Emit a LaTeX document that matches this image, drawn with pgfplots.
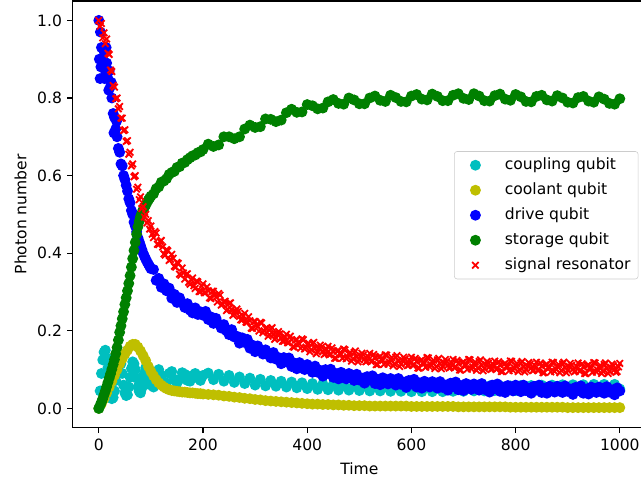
\documentclass[border=0pt]{standalone}
\usepackage{fontspec}
\setmainfont{DejaVu Sans}
\usepackage{pgfplots}
\usepackage{pgfplotstable}
\pgfplotsset{compat=1.18}
\definecolor{mplc}{rgb}{0,0.75,0.75}
\definecolor{mply}{rgb}{0.75,0.75,0}
\definecolor{mplg}{rgb}{0,0.5,0}
\definecolor{legedge}{rgb}{0.8,0.8,0.8}

% coupling qubit
\pgfplotstableread{
t y
0 0.000
2.5 0.045
5 0.090
7.5 0.125
10 0.145
12.5 0.150
15 0.130
17.5 0.105
20 0.070
22.5 0.042
25 0.025
27.5 0.028
30 0.045
32.5 0.072
35 0.100
37.5 0.122
40 0.130
42.5 0.115
45 0.090
47.5 0.060
50 0.040
52.5 0.033
55 0.035
57.5 0.055
60 0.080
62.5 0.103
65 0.120
67.5 0.115
70 0.100
72.5 0.078
75 0.055
77.5 0.044
80 0.040
82.5 0.052
85 0.070
87.5 0.090
90 0.105
92.5 0.104
95 0.095
97.5 0.076
100 0.060
105 0.055
110 0.080
115 0.100
120 0.085
125 0.060
130 0.065
135 0.090
140 0.095
145 0.075
150 0.065
155 0.075
160 0.092
165 0.088
170 0.072
175 0.070
180 0.085
185 0.090
190 0.078
195 0.072
200 0.085
210 0.091
220 0.074
230 0.088
240 0.070
250 0.085
260 0.067
270 0.081
280 0.064
290 0.078
300 0.060
310 0.075
320 0.058
330 0.072
340 0.057
350 0.070
360 0.055
370 0.068
380 0.053
390 0.066
400 0.051
410 0.064
420 0.049
430 0.063
440 0.048
450 0.062
460 0.047
470 0.060
480 0.047
490 0.059
500 0.046
510 0.058
520 0.045
530 0.057
540 0.045
550 0.056
560 0.044
570 0.056
580 0.044
590 0.056
600 0.043
610 0.055
620 0.043
630 0.055
640 0.043
650 0.055
660 0.043
670 0.056
680 0.044
690 0.056
700 0.044
710 0.057
720 0.045
730 0.057
740 0.045
750 0.058
760 0.046
770 0.058
780 0.046
790 0.058
800 0.046
810 0.059
820 0.047
830 0.059
840 0.047
850 0.060
860 0.048
870 0.060
880 0.048
890 0.061
900 0.049
910 0.061
920 0.049
930 0.061
940 0.049
950 0.062
960 0.050
970 0.062
980 0.050
990 0.062
1000 0.050
}\cpl

% coolant qubit
\pgfplotstableread{
t y
0 0.000
5 0.012
10 0.025
15 0.040
20 0.055
25 0.070
30 0.085
35 0.100
40 0.115
45 0.128
50 0.140
55 0.150
60 0.160
65 0.165
70 0.165
75 0.158
80 0.148
85 0.136
90 0.123
95 0.108
100 0.095
105 0.084
110 0.074
115 0.066
120 0.060
125 0.055
130 0.051
135 0.048
140 0.046
145 0.045
150 0.044
155 0.043
160 0.042
165 0.042
170 0.041
175 0.040
180 0.040
185 0.039
190 0.038
195 0.038
200 0.037
210 0.036
220 0.035
230 0.034
240 0.032
250 0.031
260 0.029
270 0.028
280 0.026
290 0.025
300 0.023
310 0.022
320 0.020
330 0.019
340 0.018
350 0.017
360 0.016
370 0.015
380 0.014
390 0.013
400 0.012
410 0.011
420 0.011
430 0.010
440 0.010
450 0.009
460 0.009
470 0.008
480 0.008
490 0.007
500 0.007
510 0.007
520 0.006
530 0.006
540 0.006
550 0.006
560 0.006
570 0.006
580 0.006
590 0.006
600 0.005
610 0.005
620 0.005
630 0.005
640 0.005
650 0.005
660 0.005
670 0.005
680 0.005
690 0.004
700 0.004
710 0.004
720 0.004
730 0.004
740 0.004
750 0.004
760 0.004
770 0.004
780 0.004
790 0.003
800 0.003
810 0.003
820 0.003
830 0.003
840 0.003
850 0.003
860 0.003
870 0.003
880 0.003
890 0.003
900 0.002
910 0.002
920 0.002
930 0.002
940 0.002
950 0.002
960 0.002
970 0.002
980 0.002
990 0.002
1000 0.002
}\cool

% drive qubit
\pgfplotstableread{
t y
0 1.000
1 0.900
2.5 0.850
3 0.970
4 0.880
5 0.930
7.5 0.900
10 0.920
11 0.850
12.5 0.870
14 0.930
15 0.890
17.5 0.850
19 0.820
20 0.870
22.5 0.830
24 0.840
25 0.800
27.5 0.760
29 0.710
30 0.750
32.5 0.720
34 0.740
35 0.700
37.5 0.670
40 0.660
42.5 0.630
45 0.625
47.5 0.600
50 0.590
52.5 0.575
55 0.560
57.5 0.540
60 0.530
62.5 0.510
65 0.500
67.5 0.480
70 0.470
72.5 0.455
75 0.440
77.5 0.430
80 0.420
82.5 0.410
85 0.400
87.5 0.392
90 0.385
92.5 0.378
95 0.372
97.5 0.366
100 0.360
105 0.358
110 0.330
115 0.335
120 0.312
125 0.321
130 0.303
135 0.310
140 0.284
145 0.294
150 0.273
155 0.285
160 0.272
165 0.260
170 0.270
175 0.253
180 0.246
185 0.259
190 0.242
195 0.249
200 0.240
205 0.250
210 0.229
215 0.236
220 0.219
225 0.232
230 0.218
235 0.207
240 0.216
245 0.200
250 0.190
255 0.203
260 0.184
265 0.186
270 0.168
275 0.182
280 0.170
285 0.178
290 0.155
295 0.163
300 0.146
305 0.161
310 0.149
315 0.140
320 0.151
325 0.138
330 0.130
335 0.144
340 0.127
345 0.131
350 0.115
355 0.131
360 0.120
365 0.130
370 0.108
375 0.117
380 0.102
385 0.118
390 0.108
395 0.100
400 0.113
405 0.100
410 0.093
415 0.109
420 0.093
425 0.098
430 0.083
435 0.100
440 0.090
445 0.101
450 0.080
455 0.090
460 0.076
465 0.093
470 0.083
475 0.076
480 0.090
485 0.078
490 0.072
495 0.088
500 0.073
505 0.078
510 0.065
515 0.082
520 0.073
525 0.084
530 0.064
535 0.075
540 0.061
545 0.079
550 0.070
555 0.063
560 0.077
565 0.066
570 0.060
575 0.077
580 0.062
585 0.068
590 0.054
595 0.072
600 0.063
605 0.075
610 0.055
615 0.066
620 0.052
625 0.070
630 0.061
635 0.055
640 0.069
645 0.058
650 0.052
655 0.069
660 0.054
665 0.060
670 0.047
675 0.065
680 0.056
685 0.068
690 0.048
695 0.059
700 0.046
705 0.064
710 0.055
715 0.049
720 0.063
725 0.052
730 0.047
735 0.064
740 0.049
745 0.055
750 0.042
755 0.060
760 0.051
765 0.063
770 0.044
775 0.055
780 0.041
785 0.059
790 0.051
795 0.045
800 0.060
805 0.049
810 0.043
815 0.060
820 0.046
825 0.052
830 0.039
835 0.057
840 0.048
845 0.060
850 0.041
855 0.052
860 0.039
865 0.057
870 0.048
875 0.042
880 0.057
885 0.046
890 0.041
895 0.058
900 0.044
905 0.050
910 0.036
915 0.054
920 0.046
925 0.058
930 0.039
935 0.050
940 0.037
945 0.055
950 0.047
955 0.041
960 0.055
965 0.044
970 0.039
975 0.056
980 0.042
985 0.048
990 0.035
995 0.053
1000 0.045
}\drv

% storage qubit
\pgfplotstableread{
t y
0 0.000
2.5 0.008
5 0.016
7.5 0.025
10 0.035
12.5 0.045
15 0.056
17.5 0.067
20 0.078
22.5 0.089
25 0.101
27.5 0.113
30 0.126
32.5 0.141
35 0.157
37.5 0.176
40 0.196
42.5 0.213
45 0.231
47.5 0.249
50 0.268
52.5 0.285
55 0.303
57.5 0.322
60 0.342
62.5 0.364
65 0.386
67.5 0.407
70 0.428
72.5 0.449
75 0.468
77.5 0.482
80 0.494
82.5 0.503
85 0.512
87.5 0.518
90 0.524
92.5 0.531
95 0.537
97.5 0.542
100 0.547
105 0.553
110 0.566
115 0.571
120 0.583
125 0.586
130 0.592
135 0.603
140 0.608
145 0.611
150 0.621
155 0.623
160 0.632
165 0.634
170 0.641
175 0.646
180 0.651
185 0.653
190 0.659
195 0.661
200 0.667
210 0.681
220 0.675
230 0.679
240 0.700
250 0.700
260 0.695
270 0.700
280 0.720
290 0.730
300 0.724
310 0.726
320 0.746
330 0.745
340 0.739
350 0.743
360 0.762
370 0.771
380 0.763
390 0.764
400 0.783
410 0.780
420 0.772
430 0.774
440 0.790
450 0.796
460 0.786
470 0.784
480 0.800
490 0.795
500 0.785
510 0.785
520 0.800
530 0.805
540 0.794
550 0.791
560 0.807
570 0.801
580 0.791
590 0.790
600 0.805
610 0.809
620 0.797
630 0.795
640 0.810
650 0.804
660 0.793
670 0.793
680 0.807
690 0.811
700 0.799
710 0.796
720 0.811
730 0.805
740 0.793
750 0.792
760 0.806
770 0.810
780 0.797
790 0.794
800 0.809
810 0.803
820 0.791
830 0.790
840 0.804
850 0.807
860 0.795
870 0.792
880 0.806
890 0.800
900 0.789
910 0.787
920 0.801
930 0.804
940 0.792
950 0.789
960 0.803
970 0.797
980 0.786
990 0.784
1000 0.798
}\sto

% signal resonator
\pgfplotstableread{
t y
0 1.000
2.5 0.985
5 0.992
7.5 0.955
10 0.968
12.5 0.940
15 0.952
17.5 0.915
20 0.912
22.5 0.872
25 0.868
27.5 0.832
30 0.828
32.5 0.798
35 0.800
37.5 0.772
40 0.778
42.5 0.748
45 0.748
47.5 0.716
50 0.718
52.5 0.688
55 0.690
57.5 0.655
60 0.660
62.5 0.625
65 0.630
67.5 0.597
70 0.600
72.5 0.565
75 0.570
77.5 0.538
80 0.545
82.5 0.515
85 0.520
87.5 0.493
90 0.500
92.5 0.478
95 0.484
97.5 0.462
100 0.470
105 0.440
110 0.452
115 0.422
120 0.433
125 0.398
130 0.409
135 0.381
140 0.397
145 0.366
150 0.376
155 0.346
160 0.362
165 0.333
170 0.347
175 0.320
180 0.336
185 0.309
190 0.326
195 0.301
200 0.321
205 0.298
210 0.303
215 0.283
220 0.302
225 0.287
230 0.296
235 0.266
240 0.274
245 0.252
250 0.270
255 0.255
260 0.243
265 0.256
270 0.237
275 0.228
280 0.245
285 0.222
290 0.226
295 0.206
300 0.224
305 0.211
310 0.222
315 0.195
320 0.206
325 0.186
330 0.205
335 0.192
340 0.182
345 0.198
350 0.181
355 0.173
360 0.191
365 0.170
370 0.177
375 0.158
380 0.177
385 0.166
390 0.179
395 0.153
400 0.165
405 0.146
410 0.167
415 0.155
420 0.146
425 0.163
430 0.147
435 0.141
440 0.160
445 0.140
450 0.147
455 0.129
460 0.149
465 0.139
470 0.153
475 0.128
480 0.140
485 0.122
490 0.144
495 0.133
500 0.125
505 0.142
510 0.127
515 0.122
520 0.142
525 0.122
530 0.130
535 0.113
540 0.134
545 0.124
550 0.138
555 0.114
560 0.127
565 0.110
570 0.132
575 0.122
580 0.114
585 0.132
590 0.117
595 0.112
600 0.132
605 0.113
610 0.121
615 0.104
620 0.125
625 0.116
630 0.131
635 0.107
640 0.120
645 0.103
650 0.125
655 0.115
660 0.108
665 0.126
670 0.111
675 0.106
680 0.126
685 0.107
690 0.116
695 0.099
700 0.120
705 0.111
710 0.126
715 0.102
720 0.115
725 0.098
730 0.121
735 0.111
740 0.103
745 0.121
750 0.107
755 0.102
760 0.122
765 0.103
770 0.112
775 0.095
780 0.116
785 0.107
790 0.122
795 0.098
800 0.112
805 0.095
810 0.117
815 0.107
820 0.100
825 0.118
830 0.104
835 0.099
840 0.119
845 0.100
850 0.109
855 0.092
860 0.114
865 0.105
870 0.119
875 0.095
880 0.109
885 0.092
890 0.115
895 0.105
900 0.098
905 0.116
910 0.101
915 0.096
920 0.117
925 0.098
930 0.107
935 0.090
940 0.112
945 0.103
950 0.118
955 0.094
960 0.107
965 0.090
970 0.113
975 0.103
980 0.096
985 0.114
990 0.100
995 0.095
1000 0.116
}\sig

% signal resonator, samples in between
\pgfplotstableread{
t y
102.5 0.449
107.5 0.456
112.5 0.423
117.5 0.430
122.5 0.416
127.5 0.395
132.5 0.406
137.5 0.384
142.5 0.387
147.5 0.364
152.5 0.374
157.5 0.343
162.5 0.349
167.5 0.345
172.5 0.325
177.5 0.332
182.5 0.316
187.5 0.328
192.5 0.301
197.5 0.315
202.5 0.298
207.5 0.313
212.5 0.285
217.5 0.302
222.5 0.292
227.5 0.274
232.5 0.292
237.5 0.269
242.5 0.276
247.5 0.256
252.5 0.272
257.5 0.240
262.5 0.251
267.5 0.250
272.5 0.228
277.5 0.238
282.5 0.222
287.5 0.236
292.5 0.207
297.5 0.224
302.5 0.215
307.5 0.199
312.5 0.220
317.5 0.200
322.5 0.208
327.5 0.190
332.5 0.208
337.5 0.178
342.5 0.191
347.5 0.192
352.5 0.173
357.5 0.184
362.5 0.169
367.5 0.186
372.5 0.159
377.5 0.176
382.5 0.169
387.5 0.155
392.5 0.177
397.5 0.158
402.5 0.168
407.5 0.151
412.5 0.170
417.5 0.141
422.5 0.155
427.5 0.158
432.5 0.139
437.5 0.152
442.5 0.138
447.5 0.156
452.5 0.129
457.5 0.148
462.5 0.142
467.5 0.129
472.5 0.151
477.5 0.133
482.5 0.144
487.5 0.128
492.5 0.148
497.5 0.120
502.5 0.135
507.5 0.138
512.5 0.120
517.5 0.133
522.5 0.121
527.5 0.139
532.5 0.113
537.5 0.132
542.5 0.127
547.5 0.114
552.5 0.137
557.5 0.119
562.5 0.131
567.5 0.115
572.5 0.136
577.5 0.108
582.5 0.124
587.5 0.127
592.5 0.110
597.5 0.123
602.5 0.111
607.5 0.129
612.5 0.104
617.5 0.123
622.5 0.118
627.5 0.106
632.5 0.130
637.5 0.112
642.5 0.124
647.5 0.108
652.5 0.129
657.5 0.102
662.5 0.118
667.5 0.121
672.5 0.104
677.5 0.117
682.5 0.105
687.5 0.124
692.5 0.099
697.5 0.118
702.5 0.113
707.5 0.101
712.5 0.125
717.5 0.107
722.5 0.119
727.5 0.104
732.5 0.125
737.5 0.097
742.5 0.113
747.5 0.117
752.5 0.100
757.5 0.113
762.5 0.101
767.5 0.120
772.5 0.095
777.5 0.114
782.5 0.109
787.5 0.097
792.5 0.121
797.5 0.104
802.5 0.116
807.5 0.100
812.5 0.121
817.5 0.094
822.5 0.110
827.5 0.114
832.5 0.097
837.5 0.110
842.5 0.098
847.5 0.117
852.5 0.092
857.5 0.112
862.5 0.107
867.5 0.094
872.5 0.118
877.5 0.101
882.5 0.113
887.5 0.098
892.5 0.119
897.5 0.092
902.5 0.108
907.5 0.111
912.5 0.094
917.5 0.108
922.5 0.096
927.5 0.115
932.5 0.090
937.5 0.110
942.5 0.105
947.5 0.093
952.5 0.117
957.5 0.099
962.5 0.111
967.5 0.096
972.5 0.117
977.5 0.090
982.5 0.106
987.5 0.110
992.5 0.093
997.5 0.107
}\sigb

\begin{document}
\fontsize{11.2}{13.4}\selectfont
\begin{tikzpicture}[font=\fontsize{11.2}{13.4}\selectfont]
\begin{axis}[
  name=main,
  at={(0,0)}, anchor=south west,
  scale only axis,
  width=412.6pt, height=307.3pt,
  xmin=-50, xmax=1050,
  ymin=-0.05, ymax=1.05,
  xtick={0,200,400,600,800,1000},
  ytick={0,0.2,0.4,0.6,0.8,1.0},
  xticklabel style={/pgf/number format/.cd, 1000 sep={}},
  yticklabel style={/pgf/number format/.cd, fixed, fixed zerofill, precision=1},
  /pgf/number format/assume math mode=true,
  tick label style={font=\fontsize{11.2}{13.4}\selectfont},
  label style={font=\fontsize{11.2}{13.4}\selectfont},
  tick pos=left,
  tick align=outside,
  major tick length=3.9pt,
  every tick/.style={black, line width=0.9pt},
  axis line style={line width=0.9pt},
  every axis x label/.style={at={([yshift=-29.5pt]axis description cs:0.5,0)}, anchor=center},
  every axis y label/.style={at={([xshift=-37.5pt]axis description cs:0,0.5)}, rotate=90, anchor=center},
  xlabel={Time},
  ylabel={Photon number},
  legend cell align=left,
  legend image code/.code={\path (0pt,0pt) (21pt,0pt); \draw[#1] plot coordinates {(10.5pt,0pt)};},
  legend style={
    at={(axis description cs:0.987,0.498)}, anchor=east,
    draw=legedge, rounded corners=2pt, fill=white,
    inner xsep=4.5pt, inner ysep=4pt,
    row sep=6.2pt,
    /tikz/every odd column/.append style={column sep=9.5pt},
    nodes={inner sep=1pt, text height=8pt, text depth=1.8pt},
    font=\fontsize{11.2}{13.4}\selectfont,
  },
  scatter circ/.style={only marks, mark=*, mark size=3.4pt, mark options={line width=1pt}},
  scatter x/.style={only marks, mark=x, mark size=3.3pt, mark options={line width=1.3pt}},
]
\addplot[scatter circ, color=mplc] table[x=t, y=y]{\cpl};
\addlegendentry{coupling qubit}
\addplot[scatter circ, color=mply] table[x=t, y=y]{\cool};
\addlegendentry{coolant qubit}
\addplot[scatter circ, color=blue] table[x=t, y=y]{\drv};
\addlegendentry{drive qubit}
\addplot[scatter circ, color=mplg] table[x=t, y=y]{\sto};
\addlegendentry{storage qubit}
\addplot[scatter x, color=red] table[x=t, y=y]{\sig};
\addlegendentry{signal resonator}
\addplot[scatter x, color=red, forget plot] table[x=t, y=y]{\sigb};
\end{axis}
\pgfresetboundingbox
\useasboundingbox (-52.4pt,-40pt) rectangle (409.1pt,308pt);
\end{tikzpicture}
\end{document}
